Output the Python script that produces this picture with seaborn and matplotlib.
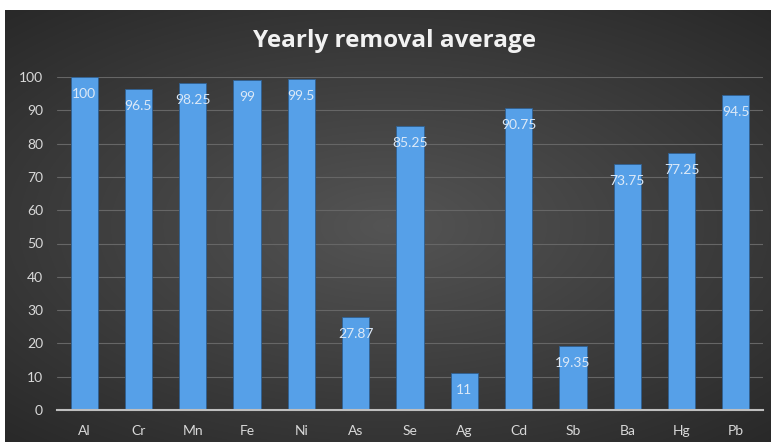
import numpy as np
import pandas as pd
import matplotlib
matplotlib.use("Agg")
import matplotlib.pyplot as plt
import seaborn as sns

elements = ["Al", "Cr", "Mn", "Fe", "Ni", "As", "Se", "Ag", "Cd", "Sb", "Ba", "Hg", "Pb"]
removal = [100, 96.5, 98.25, 99, 99.5, 27.87, 85.25, 11, 90.75, 19.35, 73.75, 77.25, 94.5]
label_texts = ["100", "96.5", "98.25", "99", "99.5", "27.87", "85.25", "11", "90.75", "19.35", "73.75", "77.25", "94.5"]
y_ticks = [0, 10, 20, 30, 40, 50, 60, 70, 80, 90, 100]

df = pd.DataFrame({"element": elements, "removal": removal})

sns.set_style("dark")
plt.rcParams["font.family"] = ["Lato", "DejaVu Sans"]

W, H = 771, 442
fig = plt.figure(figsize=(W / 100, H / 100), dpi=100)
fig.patch.set_facecolor("white")

# background panel with radial gradient
bg = fig.add_axes([5 / W, 0, 766 / W, 432 / H])
yy, xx = np.mgrid[-1:1:300j, -1:1:500j]
r = np.sqrt((xx / 1.1) ** 2 + (yy / 1.0) ** 2)
grad = np.clip(1 - r / 1.35, 0, 1)
lo = np.array([0.16, 0.16, 0.16])
hi = np.array([0.33, 0.33, 0.33])
img = lo + (hi - lo) * grad[..., None]
bg.imshow(img, aspect="auto", extent=[0, 1, 0, 1], interpolation="bilinear")
bg.set_axis_off()

ax = fig.add_axes([57 / W, 1 - 410 / H, (763 - 57) / W, (410 - 77) / H])
ax.set_facecolor("none")
ax.patch.set_alpha(0)

sns.barplot(data=df, x="element", y="removal", color="#56a0e8", width=0.5,
            saturation=1, ax=ax, edgecolor="#2f5f90", linewidth=0.6, zorder=3)

ax.set_xlim(-0.5, len(elements) - 0.5)
ax.set_ylim(0, 100)
ax.set_yticks(y_ticks)
ax.set_yticklabels([str(t) for t in y_ticks], color="#d9d9d9", fontsize=10)
ax.tick_params(axis="x", colors="#d9d9d9", labelsize=10, length=0, pad=11)
ax.tick_params(axis="y", length=0, pad=10)
for lbl in ax.get_xticklabels():
    lbl.set_color("#d9d9d9")
ax.set_xlabel("")
ax.set_ylabel("")
ax.grid(axis="y", color="#666666", linewidth=0.8, zorder=0)
ax.grid(axis="x", visible=False)
for s in ["top", "right", "left"]:
    ax.spines[s].set_visible(False)
ax.spines["bottom"].set_color("#bfbfbf")
ax.spines["bottom"].set_linewidth(1.5)
ax.spines["bottom"].set_zorder(4)

for i, (v, t) in enumerate(zip(removal, label_texts)):
    ax.annotate(t, xy=(i, v), xytext=(0, -17), textcoords="offset pixels",
                ha="center", va="center", fontsize=10, color="#dce9f7", zorder=5)

fig.text(395 / W, 1 - 41 / H, "Yearly removal average", ha="center", va="center",
         fontsize=17.5, fontweight="bold", color="#f2f2f2", family=["Open Sans", "DejaVu Sans"])

fig.savefig("out.png", dpi=100)
